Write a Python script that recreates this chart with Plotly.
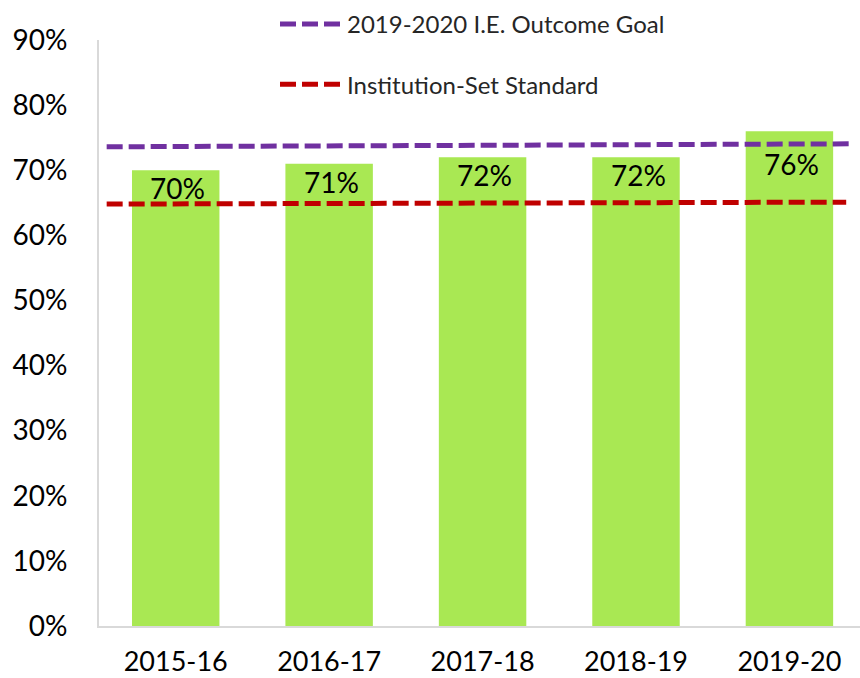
import plotly.graph_objects as go

categories = ["2015-16", "2016-17", "2017-18", "2018-19", "2019-20"]
values = [70, 71, 72, 72, 76]
labels = ["70%", "71%", "72%", "72%", "76%"]

goal_name = "2019-2020 I.E. Outcome Goal"
goal_x = [-0.45, 4.39]
goal_y = [73.6, 74.05]

std_name = "Institution-Set Standard"
std_x = [-0.45, 4.37]
std_y = [64.8, 65.1]

y_ticks = [0, 10, 20, 30, 40, 50, 60, 70, 80, 90]
y_ticktext = [f"{v}%" for v in y_ticks]

FONT = "Lato, Carlito, Calibri, sans-serif"

fig = go.Figure()
fig.add_trace(go.Bar(
    x=list(range(len(categories))), y=values,
    marker=dict(color="#A9E853", line=dict(width=0)),
    showlegend=False, hoverinfo="skip",
))
fig.add_trace(go.Scatter(
    x=goal_x, y=goal_y, mode="lines", name=goal_name, legendgroup="g",
    line=dict(color="#7030A0", width=5, dash="16px,6px"),
))
fig.add_trace(go.Scatter(
    x=std_x, y=std_y, mode="lines", name=std_name, legendgroup="s",
    line=dict(color="#C00000", width=5, dash="16px,6px"),
))

# bar value labels, placed just inside the top of each bar; pushed lower
# when the goal line crosses the bar (as in the original)
for i, (v, t) in enumerate(zip(values, labels)):
    crosses_goal = v > min(goal_y)
    fig.add_annotation(
        x=i, y=v, text=t, showarrow=False, xref="x", yref="y",
        yanchor="top", xanchor="center",
        xshift=2, yshift=-14 if crosses_goal else 1,
        font=dict(size=28, color="black", family=FONT),
    )

fig.update_layout(
    width=860, height=678,
    margin=dict(l=99, r=0, t=40, b=52, autoexpand=False),
    paper_bgcolor="white", plot_bgcolor="white",
    bargap=0.43,
    font=dict(family=FONT, size=28, color="black"),
    legend=dict(
        xref="container", yref="container",
        x=275 / 860, y=1 - 2 / 678, xanchor="left", yanchor="top",
        bgcolor="rgba(0,0,0,0)",
        font=dict(size=24, color="#262626", family=FONT),
        tracegroupgap=26, itemwidth=62,
    ),
    xaxis=dict(
        range=[-0.5, 4.46], tickmode="array",
        tickvals=list(range(len(categories))), ticktext=categories,
        showgrid=False, zeroline=False, showline=True,
        linecolor="#D9D9D9", linewidth=2, ticks="",
        ticklabelstandoff=11, automargin=False,
        tickfont=dict(size=27, color="black", family=FONT),
    ),
    yaxis=dict(
        range=[0, 90], tickmode="array", tickvals=y_ticks, ticktext=y_ticktext,
        showgrid=False, zeroline=False, showline=True,
        linecolor="#D9D9D9", linewidth=2, ticks="",
        ticklabelstandoff=24, automargin=False,
        tickfont=dict(size=28, color="black", family=FONT),
    ),
)

fig.write_html(
    "out.html",
    config={"displayModeBar": False},
    post_script="document.body.style.margin='0';document.body.style.overflow='hidden';",
)
